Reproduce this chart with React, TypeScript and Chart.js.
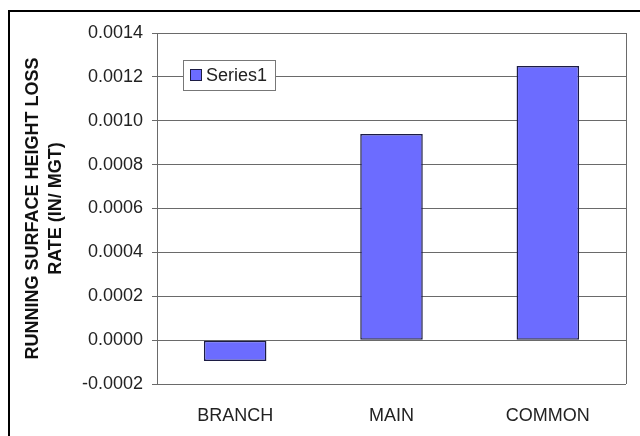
import React, { useEffect, useRef } from 'react';
import { Chart, registerables } from 'chart.js';

Chart.register(...registerables);

// ---- data ----
const categories: string[] = ['BRANCH', 'MAIN', 'COMMON'];
const series1: number[] = [-0.000095, 0.00094, 0.00125];
const seriesName = 'Series1';
const yTitle: string[] = ['RUNNING SURFACE HEIGHT LOSS', 'RATE (IN/ MGT)'];
const yMin = -0.0002;
const yMax = 0.0014;
const yStep = 0.0002;

// ---- style ----
const FONT = "'Liberation Sans', Arial, Helvetica, sans-serif";
const GRID = '#6a6a6a';
const BAR_FILL = '#6c6cff';
const BAR_EDGE = '#1c1c44';
const TEXT = '#222222';

const framePlugin = {
  id: 'frameAndLegend',
  beforeDatasetsDraw(chart: any) {
    const { ctx, chartArea: a } = chart;
    ctx.save();
    ctx.strokeStyle = GRID;
    ctx.lineWidth = 1;
    ctx.beginPath();
    ctx.moveTo(Math.round(a.right) + 0.5, a.top);
    ctx.lineTo(Math.round(a.right) + 0.5, a.bottom);
    ctx.stroke();
    ctx.restore();
  },
  afterDraw(chart: any) {
    const { ctx, chartArea: a } = chart;
    const ds = chart.data.datasets[0];
    ctx.save();
    ctx.font = `18px ${FONT}`;
    const tw = ctx.measureText(ds.label).width;
    const bx = Math.round(a.left + 26);
    const by = Math.round(a.top + 27);
    const bh = 30;
    const sw = 12;
    const bw = Math.round(7 + sw + 4 + tw + 8);
    ctx.fillStyle = '#ffffff';
    ctx.fillRect(bx, by, bw, bh);
    ctx.strokeStyle = '#777777';
    ctx.lineWidth = 1;
    ctx.strokeRect(bx + 0.5, by + 0.5, bw, bh);
    const sx = bx + 7;
    const sy = by + Math.round((bh - sw) / 2);
    ctx.fillStyle = ds.backgroundColor;
    ctx.fillRect(sx, sy, sw, sw);
    ctx.strokeStyle = ds.borderColor;
    ctx.strokeRect(sx + 0.5, sy + 0.5, sw - 1, sw - 1);
    ctx.fillStyle = TEXT;
    ctx.textBaseline = 'middle';
    ctx.textAlign = 'left';
    ctx.fillText(ds.label, sx + sw + 4, by + bh / 2 + 1);
    ctx.restore();
  },
};

export default function App() {
  const ref = useRef<HTMLCanvasElement>(null);

  useEffect(() => {
    if (!ref.current) return;
    const chart = new Chart(ref.current, {
      type: 'bar',
      data: {
        labels: categories,
        datasets: [
          {
            label: seriesName,
            data: series1,
            backgroundColor: BAR_FILL,
            borderColor: BAR_EDGE,
            borderWidth: 1.5,
            borderSkipped: false,
            barPercentage: 0.4,
            categoryPercentage: 1.0,
          },
        ],
      },
      options: {
        animation: false,
        responsive: false,
        devicePixelRatio: 1,
        layout: { padding: { left: 0, top: 33, right: 14, bottom: 0 } },
        plugins: {
          legend: { display: false },
          tooltip: { enabled: false },
        },
        scales: {
          x: {
            afterFit: (s: any) => {
              s.height = 52;
            },
            grid: { display: false },
            border: { display: false },
            ticks: {
              color: TEXT,
              padding: 13,
              font: { family: FONT, size: 18 },
            },
          },
          y: {
            min: yMin,
            max: yMax,
            afterFit: (s: any) => {
              s.width = 157;
            },
            grid: { color: GRID, lineWidth: 1, tickLength: 5, drawTicks: true },
            border: { display: true, color: GRID, width: 1 },
            ticks: {
              stepSize: yStep,
              padding: 9,
              color: TEXT,
              font: { family: FONT, size: 18 },
              callback: (v: any) => {
                const n = Number(v);
                return (Math.abs(n) < 1e-12 ? 0 : n).toFixed(4);
              },
            },
            title: {
              display: true,
              text: yTitle,
              color: '#111111',
              padding: { top: 21, bottom: 0 },
              font: { family: FONT, size: 18, weight: 'bold', lineHeight: 1.3 },
            },
          },
        },
      },
      plugins: [framePlugin],
    });
    return () => chart.destroy();
  }, []);

  return (
    <div
      style={{
        position: 'fixed',
        left: 0,
        top: 0,
        width: 640,
        height: 436,
        background: '#ffffff',
        overflow: 'hidden',
      }}
    >
      <canvas
        ref={ref}
        width={640}
        height={436}
        style={{ position: 'absolute', left: 0, top: 0, width: 640, height: 436 }}
      />
      <div
        style={{
          position: 'absolute',
          left: 8,
          top: 10,
          width: 640,
          height: 436,
          borderTop: '2px solid #000',
          borderLeft: '2px solid #000',
          pointerEvents: 'none',
        }}
      />
    </div>
  );
}
